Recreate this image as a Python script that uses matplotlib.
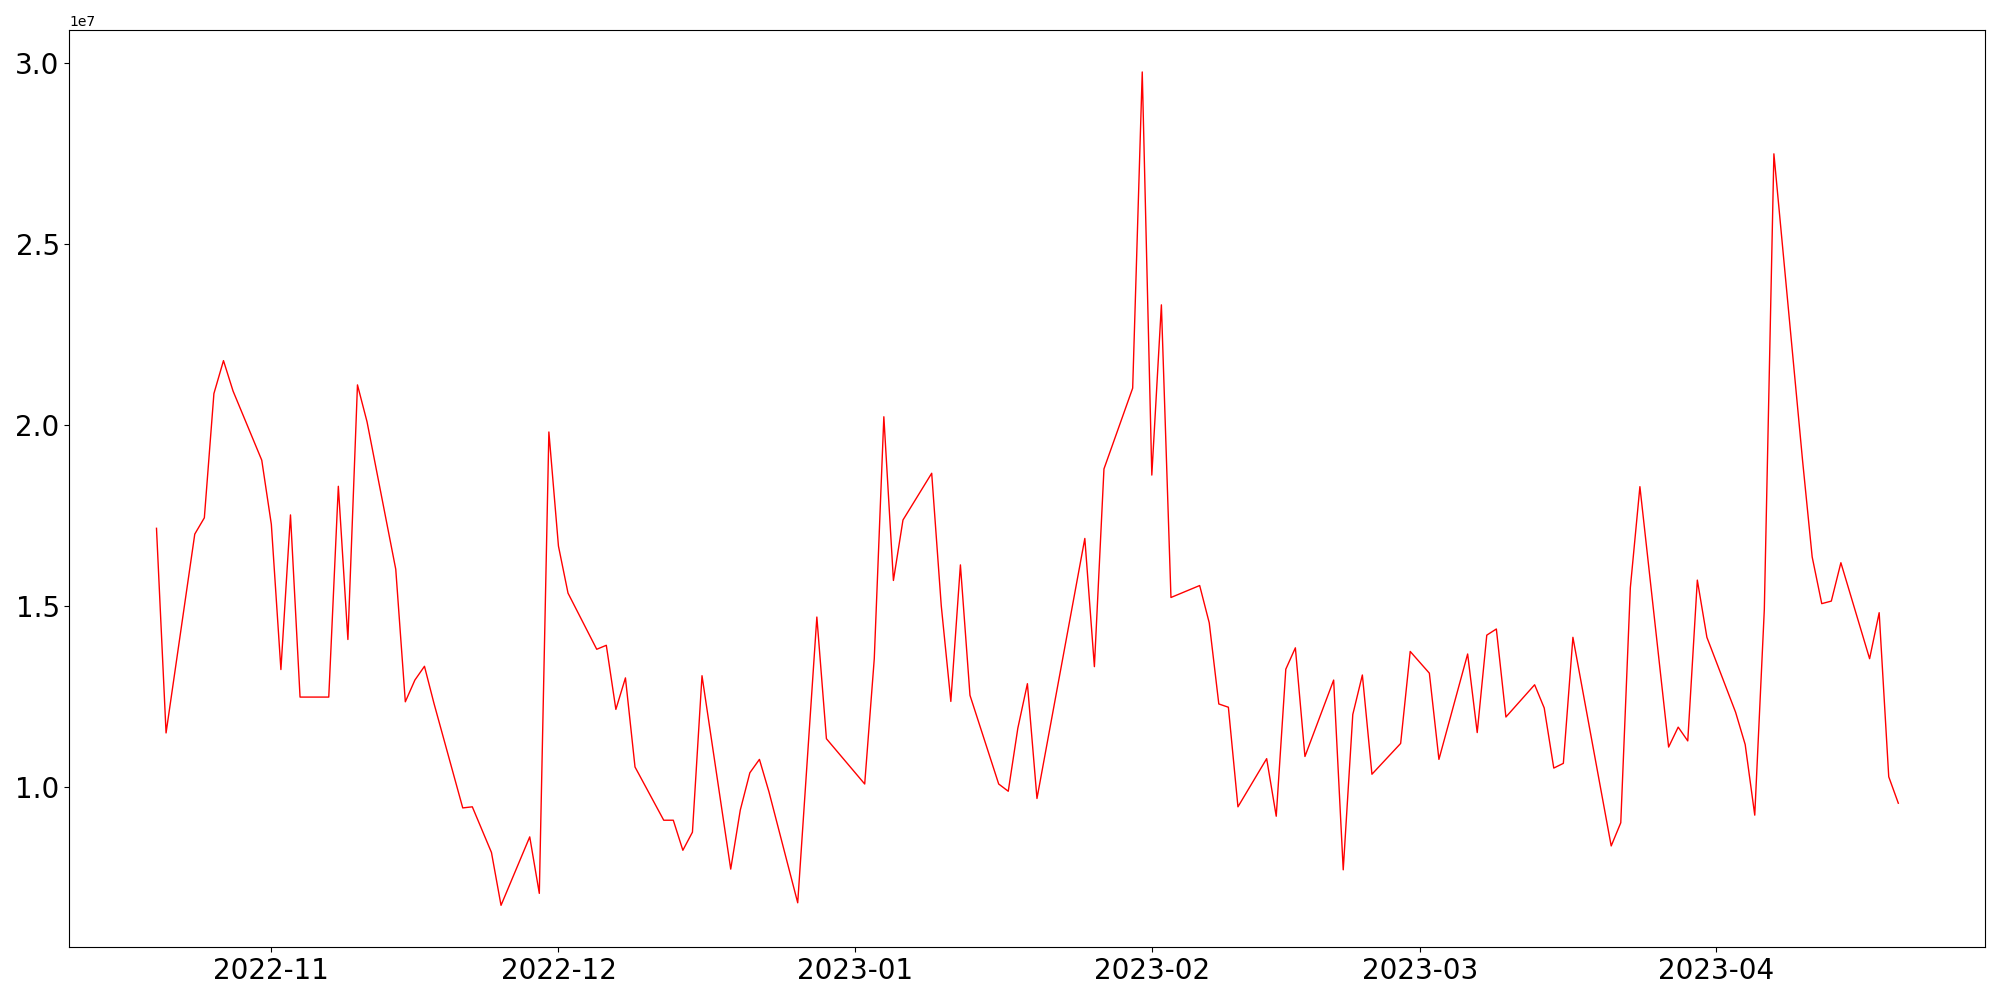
import matplotlib
matplotlib.use("Agg")
import matplotlib.pyplot as plt
import pandas as pd

dates = [
    "2022-10-20", "2022-10-21", "2022-10-24", "2022-10-25", "2022-10-26", "2022-10-27", "2022-10-28",
    "2022-10-31", "2022-11-01", "2022-11-02", "2022-11-03", "2022-11-04",
    "2022-11-07", "2022-11-08", "2022-11-09", "2022-11-10", "2022-11-11",
    "2022-11-14", "2022-11-15", "2022-11-16", "2022-11-17", "2022-11-18",
    "2022-11-21", "2022-11-22", "2022-11-24", "2022-11-25",
    "2022-11-28", "2022-11-29", "2022-11-30", "2022-12-01", "2022-12-02",
    "2022-12-05", "2022-12-06", "2022-12-07", "2022-12-08", "2022-12-09",
    "2022-12-12", "2022-12-13", "2022-12-14", "2022-12-15", "2022-12-16",
    "2022-12-19", "2022-12-20", "2022-12-21", "2022-12-22", "2022-12-23",
    "2022-12-26", "2022-12-28", "2022-12-29",
    "2023-01-02", "2023-01-03", "2023-01-04", "2023-01-05", "2023-01-06",
    "2023-01-09", "2023-01-10", "2023-01-11", "2023-01-12", "2023-01-13",
    "2023-01-16", "2023-01-17", "2023-01-18", "2023-01-19", "2023-01-20",
    "2023-01-25", "2023-01-26", "2023-01-27",
    "2023-01-30", "2023-01-31", "2023-02-01", "2023-02-02", "2023-02-03",
    "2023-02-06", "2023-02-07", "2023-02-08", "2023-02-09", "2023-02-10",
    "2023-02-13", "2023-02-14", "2023-02-15", "2023-02-16", "2023-02-17",
    "2023-02-20", "2023-02-21", "2023-02-22", "2023-02-23", "2023-02-24",
    "2023-02-27", "2023-02-28", "2023-03-02", "2023-03-03",
    "2023-03-06", "2023-03-07", "2023-03-08", "2023-03-09", "2023-03-10",
    "2023-03-13", "2023-03-14", "2023-03-15", "2023-03-16", "2023-03-17",
    "2023-03-21", "2023-03-22", "2023-03-23", "2023-03-24",
    "2023-03-27", "2023-03-28", "2023-03-29", "2023-03-30", "2023-03-31",
    "2023-04-03", "2023-04-04", "2023-04-05", "2023-04-06", "2023-04-07",
    "2023-04-10", "2023-04-11", "2023-04-12", "2023-04-13", "2023-04-14",
    "2023-04-17", "2023-04-18", "2023-04-19", "2023-04-20",
]

values_millions = [
    17.14, 11.49, 16.98, 17.43, 20.86, 21.77, 20.93,
    19.02, 17.25, 13.24, 17.51, 12.48,
    12.48, 18.30, 14.07, 21.10, 20.08,
    16.01, 12.35, 12.95, 13.33, 12.30,
    9.42, 9.45, 8.19, 6.73,
    8.62, 7.06, 19.80, 16.65, 15.35,
    13.80, 13.91, 12.14, 13.01, 10.55,
    9.08, 9.08, 8.25, 8.75, 13.07,
    7.73, 9.36, 10.39, 10.76, 9.86,
    6.80, 14.69, 11.33,
    10.08, 13.54, 20.22, 15.70, 17.37,
    18.66, 15.00, 12.36, 16.13, 12.53,
    10.08, 9.88, 11.62, 12.85, 9.68,
    16.86, 13.32, 18.78,
    21.01, 29.74, 18.61, 23.31, 15.23,
    15.56, 14.53, 12.29, 12.20, 9.45,
    10.78, 9.19, 13.25, 13.84, 10.84,
    12.95, 7.71, 12.00, 13.09, 10.35,
    11.20, 13.74, 13.14, 10.76,
    13.67, 11.50, 14.19, 14.36, 11.93,
    12.82, 12.18, 10.52, 10.65, 14.13,
    8.37, 9.01, 15.50, 18.29,
    11.10, 11.65, 11.27, 15.71, 14.13,
    12.06, 11.17, 9.22, 14.90, 27.48,
    19.00, 16.35, 15.06, 15.13, 16.19,
    13.54, 14.81, 10.28, 9.55,
]

x = pd.to_datetime(dates)
y = [v * 1e6 for v in values_millions]

fig, ax = plt.subplots(figsize=(20, 10), dpi=100)
fig.subplots_adjust(left=0.0347, right=0.9927, bottom=0.053, top=0.9697)
ax.plot(x, y, color="red", linewidth=1.0)
ax.tick_params(axis="both", labelsize=20)
fig.savefig("out.png", dpi=100)
